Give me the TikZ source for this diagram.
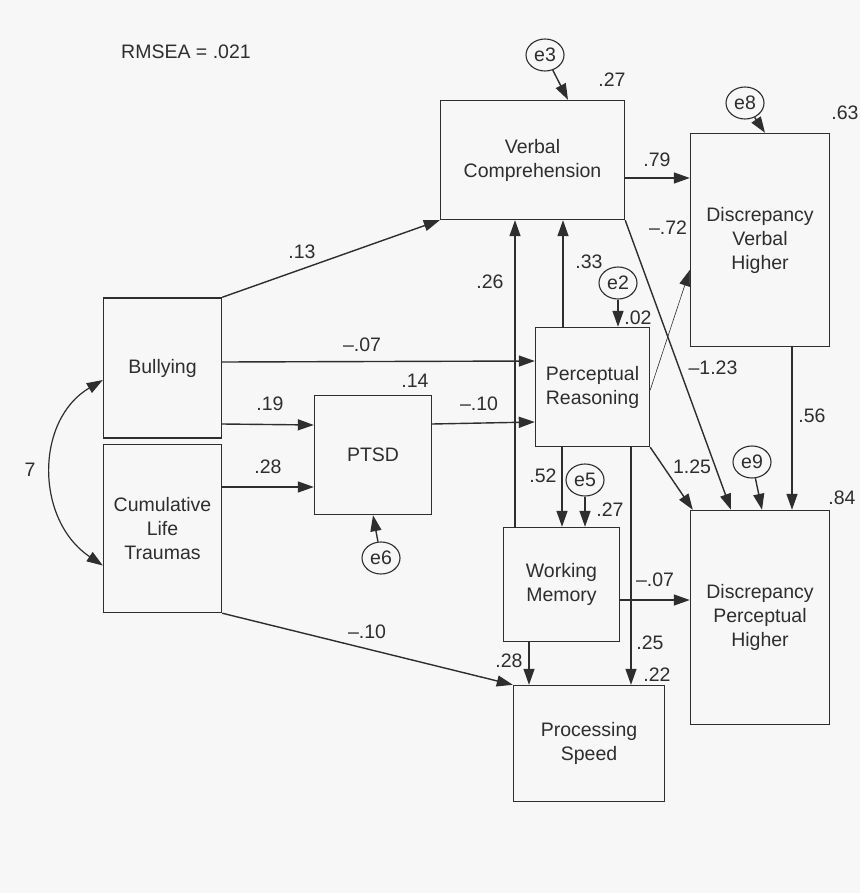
\documentclass[tikz,border=0pt]{standalone}
\usepackage{fontspec}
\setmainfont{Liberation Sans}
\usetikzlibrary{arrows.meta}
\definecolor{ink}{HTML}{2E2E2E}
\definecolor{paper}{HTML}{F7F7F7}
\tikzset{
  var/.style={draw=ink, line width=1.4pt, fill=paper, align=center, inner sep=0pt, text=ink},
  err/.style={draw=ink, line width=1.1pt, ellipse, minimum width=38pt, minimum height=32pt, inner sep=0pt, text=ink},
  path/.style={draw=ink, line width=1.4pt, -{Triangle[length=16pt,width=11pt]}},
  coef/.style={text=ink, inner sep=0pt}
}
\usetikzlibrary{shapes.geometric}
\begin{document}
\begin{tikzpicture}[x=1pt,y=-1pt, font=\fontsize{19.5}{24}\selectfont]
	\fill[paper] (0,0) rectangle (860,893);
	\useasboundingbox (0,0) rectangle (860,893);
	\node[coef] (fit) at (186,52) {RMSEA = .021};
	% observed variables
	\node[var, minimum width=184pt, minimum height=119pt] (vc) at (532.5,160) {Verbal\\Comprehension};
	\node[var, minimum width=139pt, minimum height=213pt] (dvh) at (760,240) {Discrepancy\\Verbal\\Higher};
	\node[var, minimum width=118pt, minimum height=140pt] (bul) at (162.5,368) {Bullying};
	\node[var, minimum width=118pt, minimum height=168pt] (clt) at (162.5,528.5) {Cumulative\\Life\\Traumas};
	\node[var, minimum width=117pt, minimum height=119pt] (ptsd) at (373,455) {PTSD};
	\node[var, minimum width=114pt, minimum height=119pt] (pr) at (592.5,387) {Perceptual\\Reasoning};
	\node[var, minimum width=116pt, minimum height=114pt] (wm) at (561.5,584.5) {Working\\Memory};
	\node[var, minimum width=139pt, minimum height=214pt] (dph) at (760,617.5) {Discrepancy\\Perceptual\\Higher};
	\node[var, minimum width=151pt, minimum height=116pt] (ps) at (589,743.5) {Processing\\Speed};
	% errors
	\node[err] (e3) at (545,55) {e3};
	\node[err] (e8) at (745,103) {e8};
	\node[err] (e2) at (618,283) {e2};
	\node[err] (e5) at (585,480) {e5};
	\node[err] (e9) at (752,462) {e9};
	\node[err] (e6) at (381,558) {e6};
	% paths
	\draw[path] (bul.north east) -- (vc.south west);
	\draw[path] ([yshift=6pt]bul.east) -- ([yshift=26pt]pr.west);
	\draw[path] ([yshift=-56pt]bul.east) -- ([yshift=30pt]ptsd.west);
	\draw[path] ([yshift=41.5pt]clt.east) -- ([yshift=-32pt]ptsd.west);
	\draw[path] (clt.south east) -- (ps.north west);
	\draw[path] ([yshift=31pt]ptsd.east) -- ([yshift=-35pt]pr.west);
	\draw[path] ([xshift=-29.5pt]pr.north) -- ([xshift=30.5pt]vc.south);
	\draw[path] ([xshift=-46.5pt]wm.north) -- ([xshift=-17.5pt]vc.south);
	\draw[path] ([yshift=-18pt]vc.east) -- ([yshift=62pt]dvh.west);
	\draw[path] (vc.south east) -- ([xshift=-29pt]dph.north);
	\draw[path, line width=0.6pt] ([yshift=-3pt]pr.east) -- ([yshift=-30pt]dvh.west);
	\draw[path] (pr.south east) -- ([xshift=3pt]dph.north west);
	\draw[path] ([xshift=-30.5pt]pr.south) -- ([xshift=0.5pt]wm.north);
	\draw[path] ([xshift=38.5pt]pr.south) -- ([xshift=42pt]ps.north);
	\draw[path] ([xshift=-32.5pt]wm.south) -- ([xshift=-60pt]ps.north);
	\draw[path] ([yshift=-15.5pt]wm.east) -- ([yshift=17.5pt]dph.west);
	\draw[path] ([xshift=32pt]dvh.south) -- ([xshift=32pt]dph.north);
	\draw[path] (e3) -- ([xshift=35.5pt]vc.north);
	\draw[path] (e8) -- ([xshift=5pt]dvh.north);
	\draw[path] (e2) -- ([xshift=25.5pt]pr.north);
	\draw[path] (e5) -- ([xshift=23.5pt]wm.north);
	\draw[path] (e9) -- ([xshift=2pt]dph.north);
	\draw[path] (e6) -- (ptsd.south);
	\draw[draw=ink, line width=1.2pt, {Triangle[length=16pt,width=11pt]}-{Triangle[length=16pt,width=11pt]}]
		([yshift=-12pt]bul.west) .. controls (35,420) and (35,520) .. ([yshift=-37pt]clt.west);
	% coefficients
	\node[coef] (c1) at (302,252) {.13};
	\node[coef] (c2) at (362,345) {--.07};
	\node[coef] (c3) at (270,404) {.19};
	\node[coef] (c4) at (268,467) {.28};
	\node[coef] (c5) at (367,632) {--.10};
	\node[coef] (c6) at (479,404) {--.10};
	\node[coef] (c7) at (415,381) {.14};
	\node[coef] (c8) at (589,262) {.33};
	\node[coef] (c9) at (490,282) {.26};
	\node[coef] (c10) at (657,160) {.79};
	\node[coef] (c11) at (713,368) {--1.23};
	\node[coef] (c12) at (668,228) {--.72};
	\node[coef] (c13) at (692,467) {1.25};
	\node[coef] (c14) at (543,476) {.52};
	\node[coef] (c15) at (650,643) {.25};
	\node[coef] (c16) at (509,661) {.28};
	\node[coef] (c17) at (655,580) {--.07};
	\node[coef] (c18) at (812,416) {.56};
	\node[coef] (r1) at (612,80) {.27};
	\node[coef] (r2) at (845,113) {.63};
	\node[coef] (r3) at (638,318) {.02};
	\node[coef] (r4) at (610,510) {.27};
	\node[coef] (r5) at (842,498) {.84};
	\node[coef] (r6) at (657,675) {.22};
	\node[coef] (cov) at (30,470) {7};
\end{tikzpicture}
\end{document}
